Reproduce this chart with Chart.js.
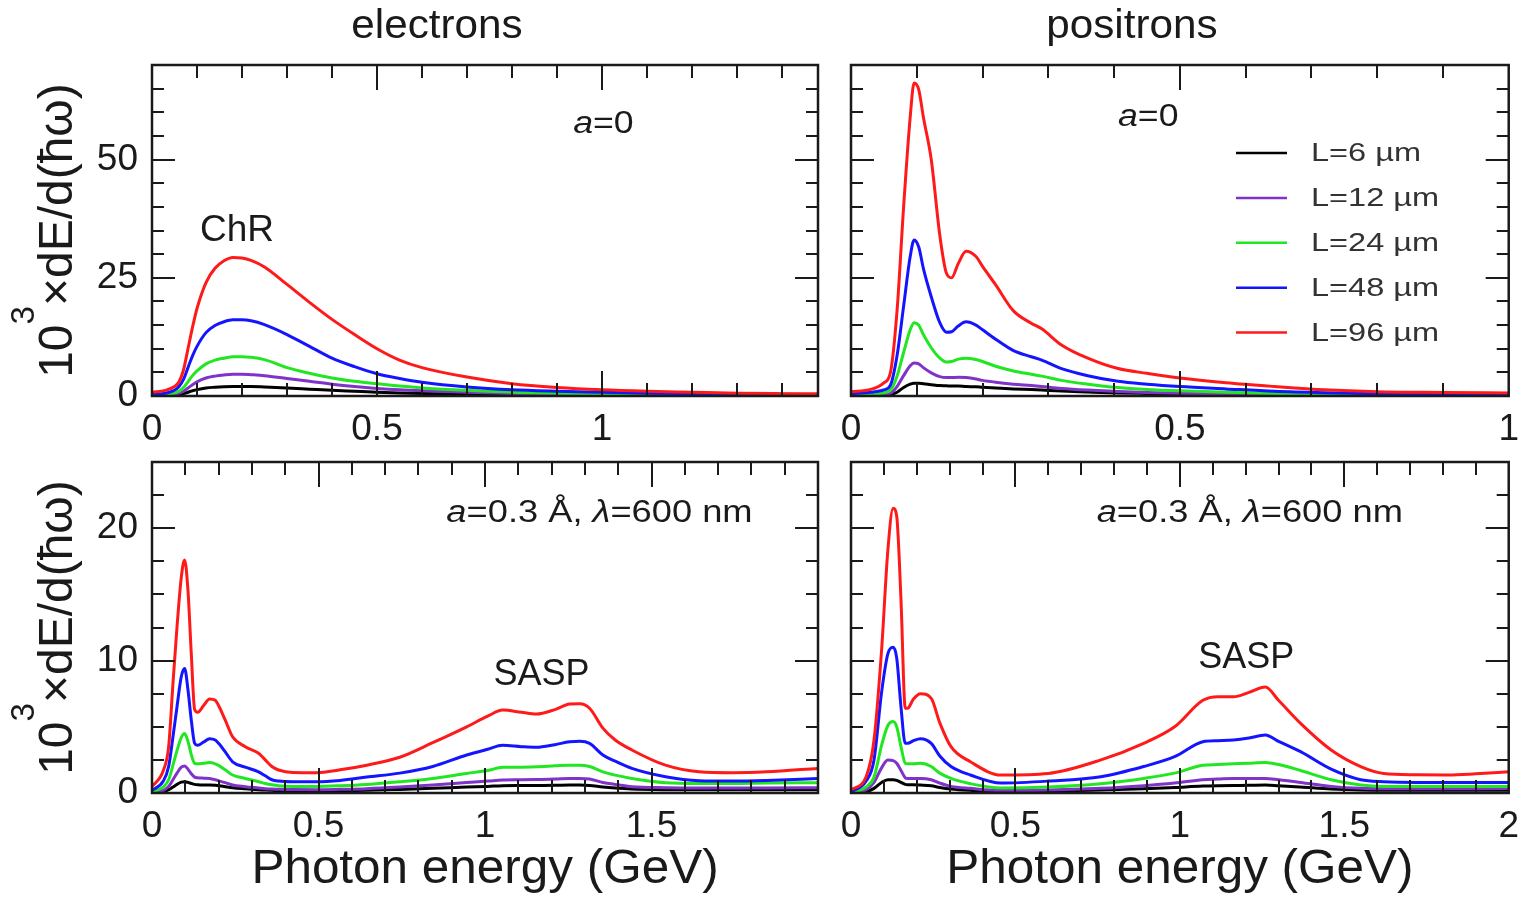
<!DOCTYPE html>
<html>
<head>
<meta charset="utf-8">
<script src="https://cdn.jsdelivr.net/npm/chart.js@4.4.1/dist/chart.umd.min.js"></script>
<style>
	body { margin: 0; background: #ffffff; }
	#figure { position: relative; width: 1531px; height: 897px; }
	#figure canvas { position: absolute; left: 0; top: 0; }
</style>
</head>
<body>
<div id="figure">
	<canvas id="electrons-a0" width="1531" height="897"></canvas>
	<canvas id="positrons-a0" width="1531" height="897"></canvas>
	<canvas id="electrons-a3" width="1531" height="897"></canvas>
	<canvas id="positrons-a3" width="1531" height="897"></canvas>
</div>
<script>
// Crystal lengths, shortest first
const lengthLabels = ["L=6 µm", "L=12 µm", "L=24 µm", "L=48 µm", "L=96 µm"];
const lineColors = ["#000000", "#7f33c8", "#22e622", "#1414ff", "#ff1a1a"];

// electrons, a=0 (photon energy in GeV)
const eA0X = [0, 0.03, 0.05, 0.06, 0.07, 0.08, 0.09, 0.1, 0.12, 0.14, 0.16, 0.18, 0.2, 0.22, 0.25, 0.3, 0.35, 0.4, 0.45, 0.5, 0.55, 0.6, 0.7, 0.8, 0.9, 1.0, 1.1, 1.2, 1.3, 1.4, 1.48];
const eA0L6 = [0.05, 0.1, 0.2, 0.3, 0.5, 0.8, 1.1, 1.35, 1.7, 1.85, 1.95, 2.0, 2.0, 2.0, 1.9, 1.7, 1.45, 1.2, 1.0, 0.8, 0.65, 0.55, 0.4, 0.3, 0.22, 0.18, 0.15, 0.12, 0.1, 0.08, 0.07];
const eA0L12 = [0.1, 0.2, 0.35, 0.6, 1.0, 1.7, 2.4, 3.0, 3.8, 4.2, 4.45, 4.6, 4.6, 4.5, 4.3, 3.7, 3.1, 2.5, 2.0, 1.6, 1.3, 1.1, 0.8, 0.55, 0.4, 0.3, 0.25, 0.2, 0.18, 0.15, 0.12];
const eA0L24 = [0.2, 0.3, 0.6, 1.0, 1.8, 3.0, 4.3, 5.3, 6.8, 7.6, 8.0, 8.3, 8.3, 8.2, 7.7, 6.0, 4.8, 3.8, 3.1, 2.6, 2.1, 1.7, 1.2, 0.8, 0.6, 0.5, 0.4, 0.35, 0.3, 0.25, 0.2];
const eA0L48 = [0.3, 0.6, 1.2, 2.0, 3.5, 6.0, 8.5, 10.5, 13.4, 14.9, 15.7, 16.1, 16.1, 15.9, 15.1, 13.0, 10.5, 8.0, 6.2, 4.7, 3.7, 2.9, 1.9, 1.3, 1.0, 0.8, 0.6, 0.5, 0.4, 0.35, 0.3];
const eA0L96 = [0.8, 1.2, 2.0, 3.0, 5.5, 10, 14.5, 18.5, 24, 27, 28.6, 29.3, 29.2, 28.7, 27.3, 23.6, 19.8, 16.2, 13.0, 10.0, 7.6, 6.0, 4.0, 2.6, 1.8, 1.3, 1.0, 0.8, 0.6, 0.5, 0.45];

// positrons, a=0
const pA0X = [0, 0.03, 0.05, 0.06, 0.07, 0.08, 0.09, 0.096, 0.103, 0.11, 0.122, 0.135, 0.145, 0.153, 0.163, 0.175, 0.19, 0.2, 0.22, 0.247, 0.274, 0.29, 0.32, 0.36, 0.406, 0.45, 0.5, 0.57, 0.644, 0.72, 0.8, 0.9, 1.0];
const pA0L6 = [0.1, 0.12, 0.2, 0.3, 0.8, 1.8, 2.5, 2.7, 2.7, 2.6, 2.4, 2.2, 2.15, 2.1, 2.1, 2.0, 1.95, 1.85, 1.7, 1.5, 1.35, 1.25, 1.05, 0.85, 0.65, 0.55, 0.45, 0.35, 0.25, 0.2, 0.15, 0.12, 0.1];
const pA0L12 = [0.2, 0.25, 0.4, 0.6, 2.0, 4.3, 6.4, 7.0, 6.8, 6.0, 4.9, 4.1, 3.9, 3.9, 3.95, 3.9, 3.6, 3.3, 2.9, 2.5, 2.2, 2.0, 1.6, 1.25, 0.95, 0.75, 0.6, 0.45, 0.35, 0.25, 0.2, 0.15, 0.12];
const pA0L24 = [0.3, 0.4, 0.7, 1.2, 4.2, 9.2, 14.0, 15.5, 15.0, 13.0, 10.2, 8.0, 7.2, 7.3, 7.8, 8.0, 7.7, 7.3, 6.3, 5.3, 4.6, 4.2, 3.3, 2.5, 1.8, 1.4, 1.1, 0.8, 0.55, 0.4, 0.3, 0.25, 0.2];
const pA0L48 = [0.5, 0.8, 1.3, 2.3, 8.5, 19, 29.5, 33, 31.5, 27, 21, 15.5, 13.5, 13.6, 14.8, 15.7, 15.0, 14.0, 12.0, 9.6, 8.3, 7.6, 5.8, 4.3, 3.1, 2.5, 2.0, 1.5, 1.0, 0.7, 0.5, 0.45, 0.4];
const pA0L96 = [0.9, 1.4, 2.8, 5, 18, 40, 59, 66.2, 64.8, 59, 50, 34, 26, 25, 28, 30.6, 29.5, 27.4, 23.5, 18, 15.4, 14.2, 10.8, 8.0, 5.8, 4.8, 3.8, 2.8, 2.0, 1.3, 0.9, 0.75, 0.65];

// electrons, a=0.3 Å, λ=600 nm
const eA3X = [0, 0.034, 0.05, 0.063, 0.075, 0.088, 0.098, 0.108, 0.118, 0.128, 0.137, 0.155, 0.173, 0.19, 0.202, 0.22, 0.242, 0.28, 0.32, 0.34, 0.36, 0.38, 0.423, 0.494, 0.565, 0.645, 0.744, 0.843, 0.945, 1.008, 1.053, 1.109, 1.154, 1.21, 1.254, 1.285, 1.314, 1.354, 1.391, 1.441, 1.542, 1.643, 1.744, 1.845, 2.0];
const eA3L6 = [0.02, 0.1, 0.25, 0.45, 0.65, 0.82, 0.85, 0.8, 0.72, 0.65, 0.62, 0.6, 0.6, 0.58, 0.55, 0.48, 0.4, 0.32, 0.25, 0.22, 0.2, 0.18, 0.16, 0.15, 0.17, 0.2, 0.27, 0.35, 0.45, 0.5, 0.55, 0.56, 0.57, 0.58, 0.6, 0.6, 0.57, 0.45, 0.37, 0.3, 0.25, 0.24, 0.24, 0.24, 0.25];
const eA3L12 = [0.05, 0.2, 0.5, 1.0, 1.5, 1.95, 2.04, 1.8, 1.45, 1.2, 1.15, 1.12, 1.1, 1.0, 0.9, 0.78, 0.6, 0.48, 0.38, 0.33, 0.3, 0.28, 0.26, 0.25, 0.28, 0.33, 0.45, 0.6, 0.8, 0.9, 0.98, 1.0, 1.02, 1.05, 1.1, 1.1, 1.05, 0.8, 0.65, 0.48, 0.4, 0.38, 0.38, 0.38, 0.4];
const eA3L24 = [0.1, 0.45, 1.0, 2.1, 3.2, 4.2, 4.5, 3.9, 2.9, 2.24, 2.2, 2.25, 2.3, 2.2, 2.05, 1.75, 1.36, 1.1, 0.85, 0.72, 0.62, 0.55, 0.5, 0.5, 0.55, 0.65, 0.85, 1.1, 1.48, 1.7, 1.94, 1.95, 1.98, 2.05, 2.1, 2.1, 2.0, 1.6, 1.35, 1.1, 0.78, 0.72, 0.72, 0.75, 0.78];
const eA3L48 = [0.2, 0.9, 2.0, 4.25, 6.5, 8.8, 9.4, 7.8, 5.5, 3.75, 3.6, 3.85, 4.1, 4.0, 3.7, 3.1, 2.36, 1.95, 1.6, 1.3, 1.0, 0.9, 0.85, 0.85, 0.95, 1.2, 1.5, 2.0, 2.87, 3.3, 3.6, 3.5, 3.45, 3.65, 3.87, 3.9, 3.75, 2.87, 2.4, 1.86, 1.23, 0.93, 0.9, 0.95, 1.1];
const eA3L96 = [0.48, 1.7, 3.5, 8.3, 12.5, 16.3, 17.6, 15.3, 10.5, 6.3, 6.1, 6.6, 7.1, 7.0, 6.5, 5.5, 4.25, 3.5, 3.0, 2.5, 2.0, 1.74, 1.55, 1.53, 1.75, 2.1, 2.7, 3.8, 5.0, 5.8, 6.26, 6.1, 5.96, 6.3, 6.72, 6.75, 6.4, 4.9, 4.0, 3.25, 2.1, 1.6, 1.53, 1.6, 1.86];

// positrons, a=0.3 Å, λ=600 nm
const pA3X = [0, 0.046, 0.07, 0.093, 0.112, 0.128, 0.139, 0.152, 0.165, 0.172, 0.19, 0.211, 0.244, 0.27, 0.304, 0.363, 0.456, 0.6, 0.76, 0.89, 0.984, 1.07, 1.116, 1.163, 1.21, 1.26, 1.3, 1.367, 1.46, 1.55, 1.62, 1.72, 1.816, 1.9, 2.0];
const pA3L6 = [0.01, 0.1, 0.35, 0.8, 1.0, 1.0, 0.95, 0.8, 0.65, 0.62, 0.62, 0.6, 0.55, 0.42, 0.3, 0.2, 0.12, 0.14, 0.22, 0.32, 0.42, 0.52, 0.55, 0.57, 0.58, 0.6, 0.55, 0.45, 0.3, 0.22, 0.2, 0.2, 0.2, 0.2, 0.2];
const pA3L12 = [0.02, 0.25, 0.8, 1.9, 2.5, 2.45, 2.25, 1.7, 1.15, 1.1, 1.1, 1.1, 1.0, 0.75, 0.5, 0.35, 0.2, 0.22, 0.35, 0.55, 0.75, 1.0, 1.05, 1.1, 1.1, 1.1, 1.0, 0.8, 0.5, 0.35, 0.32, 0.32, 0.32, 0.33, 0.35];
const pA3L24 = [0.05, 0.45, 1.2, 3.6, 5.1, 5.4, 5.0, 3.5, 2.24, 2.2, 2.2, 2.24, 2.0, 1.5, 1.1, 0.7, 0.38, 0.45, 0.7, 1.1, 1.5, 2.1, 2.15, 2.2, 2.25, 2.3, 2.15, 1.7, 1.0, 0.6, 0.5, 0.5, 0.5, 0.5, 0.5];
const pA3L48 = [0.1, 0.9, 2.5, 7.6, 10.5, 11.0, 10.2, 6.5, 3.75, 3.75, 3.95, 4.1, 3.75, 2.8, 2.0, 1.36, 0.75, 0.9, 1.23, 2.0, 2.74, 3.87, 3.95, 4.0, 4.15, 4.38, 3.9, 3.12, 1.8, 1.0, 0.85, 0.8, 0.8, 0.8, 0.8];
const pA3L96 = [0.23, 1.23, 4.0, 10.8, 18.3, 21.5, 20.9, 14.6, 6.4, 6.4, 7.1, 7.5, 7.15, 5.3, 3.5, 2.36, 1.36, 1.48, 2.5, 3.75, 5.0, 7.0, 7.27, 7.27, 7.6, 8.0, 7.0, 5.26, 3.25, 2.0, 1.48, 1.38, 1.36, 1.45, 1.6];

const FONT = "'Liberation Sans', Arial, Helvetica, sans-serif";
const INK = "#1a1a1a";
const PAGE_W = 1531, PAGE_H = 897;

Chart.defaults.font.family = FONT;
Chart.defaults.color = INK;

// draws a run of text pieces ([text, italic]) on one baseline, optionally widened
function drawParts(ctx, parts, x, y, size, stretch, align) {
	const fontFor = italic => `${italic ? "italic " : ""}${size}px ${FONT}`;
	let width = 0;
	for (const [text, italic] of parts) {
		ctx.font = fontFor(italic);
		width += ctx.measureText(text).width;
	}
	ctx.save();
	ctx.translate(x, y);
	ctx.scale(stretch, 1);
	ctx.fillStyle = INK;
	ctx.textAlign = "left";
	ctx.textBaseline = "alphabetic";
	let cx = align === "center" ? -width / 2 : 0;
	for (const [text, italic] of parts) {
		ctx.font = fontFor(italic);
		ctx.fillText(text, cx, 0);
		cx += ctx.measureText(text).width;
	}
	ctx.restore();
}

// box round the plot area with inward ticks on all four sides
function frameTicks(t) {
	return {
		id: "frameTicks",
		afterDatasetsDraw(chart) {
			const { ctx, chartArea: a, scales: { x, y } } = chart;
			const onStep = (v, step) => Math.abs(v / step - Math.round(v / step)) < 1e-6;
			ctx.save();
			ctx.strokeStyle = INK;
			ctx.lineWidth = 2;
			ctx.beginPath();
			for (let i = 1; i * t.xMinor < x.max - 1e-6; i++) {
				const v = i * t.xMinor;
				const px = Math.round(x.getPixelForValue(v));
				const len = onStep(v, t.xMajor) ? 25 : 13;
				ctx.moveTo(px, a.bottom); ctx.lineTo(px, a.bottom - len);
				ctx.moveTo(px, a.top); ctx.lineTo(px, a.top + len);
			}
			for (let i = 1; i * t.yMinor < y.max - 1e-6; i++) {
				const v = i * t.yMinor;
				const py = Math.round(y.getPixelForValue(v));
				const len = onStep(v, t.yMajor) ? 23 : 12;
				ctx.moveTo(a.left, py); ctx.lineTo(a.left + len, py);
				ctx.moveTo(a.right, py); ctx.lineTo(a.right - len, py);
			}
			ctx.stroke();
			ctx.lineWidth = 2.5;
			ctx.strokeRect(a.left, a.top, a.right - a.left, a.bottom - a.top);
			ctx.restore();
		}
	};
}

// titles, notes and the length key
function panelText(p) {
	return {
		id: "panelText",
		afterDraw(chart) {
			const { ctx, chartArea: a, scales: { x, y } } = chart;
			const midX = (a.left + a.right) / 2;
			const midY = (a.top + a.bottom) / 2;

			if (p.title) drawParts(ctx, [[p.title, false]], midX - 48, a.top - 27, 41, 1.03, "center");

			for (const n of p.notes) {
				drawParts(ctx, n.parts, x.getPixelForValue(n.x), y.getPixelForValue(n.y), n.size, n.stretch, n.align);
			}

			if (p.yTitle) {
				ctx.save();
				ctx.translate(a.left - 80, midY);
				ctx.rotate(-Math.PI / 2);
				ctx.fillStyle = INK;
				ctx.textBaseline = "alphabetic";
				const big = `48px ${FONT}`, small = `33px ${FONT}`;
				ctx.font = big;
				const w1 = ctx.measureText("10").width, w3 = ctx.measureText("×dE/d(ħω)").width;
				ctx.font = small;
				const w2 = ctx.measureText("3").width;
				let cx = -(w1 + w2 + w3) / 2;
				ctx.font = big; ctx.fillText("10", cx, 0); cx += w1;
				ctx.font = small; ctx.fillText("3", cx, -38); cx += w2;
				ctx.font = big; ctx.fillText("×dE/d(ħω)", cx, 0);
				ctx.restore();
			}

			if (p.xTitle) drawParts(ctx, [["Photon energy (GeV)", false]], midX, a.bottom + 90, 48, 1.03, "center");

			if (p.key) {
				ctx.save();
				chart.data.datasets.forEach((ds, i) => {
					const ky = a.top + 88 + i * 44.9;
					ctx.strokeStyle = ds.borderColor;
					ctx.lineWidth = 2.5;
					ctx.beginPath();
					ctx.moveTo(a.left + 385, ky);
					ctx.lineTo(a.left + 436, ky);
					ctx.stroke();
					ctx.save();
					ctx.translate(a.left + 460, ky + 1);
					ctx.scale(1.25, 1);
					ctx.font = `26px ${FONT}`;
					ctx.fillStyle = "#333333";
					ctx.textBaseline = "middle";
					ctx.fillText(ds.label, 0, 0);
					ctx.restore();
				});
				ctx.restore();
			}
		}
	};
}

function makeDatasets(xs, series) {
	return series.map((ys, i) => ({
		label: lengthLabels[i],
		data: xs.map((v, j) => ({ x: v, y: ys[j] })),
		borderColor: lineColors[i],
		borderWidth: 3,
		pointRadius: 0,
		cubicInterpolationMode: "monotone",
		order: series.length - i   // longest crystal ends up on top
	}));
}

function makePanel(id, area, xs, series, p) {
	// the y axis box has to be wide enough for its labels, which are clipped to it
	const yAxisWidth = 90, xAxisHeight = 60;
	new Chart(document.getElementById(id), {
		type: "line",
		data: { datasets: makeDatasets(xs, series) },
		options: {
			responsive: false,
			animation: false,
			events: [],
			layout: {
				padding: {
					left: area.left - yAxisWidth,
					top: area.top,
					right: PAGE_W - area.right,
					bottom: PAGE_H - area.bottom - xAxisHeight
				}
			},
			plugins: { legend: { display: false }, tooltip: { enabled: false } },
			scales: {
				x: {
					type: "linear",
					min: 0,
					max: p.xMax,
					afterFit: s => { s.height = xAxisHeight; },
					grid: { display: false, drawTicks: false },
					border: { display: false },
					ticks: {
						stepSize: 0.5,
						includeBounds: false,
						autoSkip: false,
						maxRotation: 0,
						padding: 12,
						font: { size: 37 },
						callback: v => (v <= p.xLabelMax + 1e-6 ? String(v) : "")
					}
				},
				y: {
					min: 0,
					max: p.yMax,
					afterFit: s => { s.width = yAxisWidth; },
					grid: { display: false, drawTicks: false },
					border: { display: false },
					ticks: {
						display: p.yLabels,
						stepSize: p.ticks.yMajor,
						includeBounds: false,
						padding: 14,
						font: { size: 37 }
					}
				}
			}
		},
		plugins: [frameTicks(p.ticks), panelText(p)]
	});
}

const topTicks = { xMinor: 0.1, xMajor: 0.5, yMinor: 5, yMajor: 25 };
const bottomTicks = { xMinor: 0.1, xMajor: 0.5, yMinor: 2.5, yMajor: 10 };
const a0Note = [["a", true], ["=0", false]];
const a3Note = [["a", true], ["=0.3 Å, ", false], ["λ", true], ["=600 nm", false]];

makePanel("electrons-a0", { left: 152, top: 65, right: 818, bottom: 396 }, eA0X,
	[eA0L6, eA0L12, eA0L24, eA0L48, eA0L96], {
		xMax: 1.48, xLabelMax: 1, yMax: 70, yLabels: true, ticks: topTicks,
		title: "electrons", yTitle: true,
		notes: [
			{ parts: a0Note, x: 0.936, y: 55.6, size: 31, stretch: 1.15, align: "left" },
			{ parts: [["ChR", false]], x: 0.189, y: 32.7, size: 37, stretch: 1, align: "center" }
		]
	});

makePanel("positrons-a0", { left: 851, top: 65, right: 1518, bottom: 396 }, pA0X,
	[pA0L6, pA0L12, pA0L24, pA0L48, pA0L96], {
		xMax: 1, xLabelMax: 1, yMax: 70, yLabels: false, ticks: topTicks,
		title: "positrons", key: true,
		notes: [
			{ parts: a0Note, x: 0.406, y: 57.0, size: 31, stretch: 1.15, align: "left" }
		]
	});

makePanel("electrons-a3", { left: 152, top: 462, right: 818, bottom: 793 }, eA3X,
	[eA3L6, eA3L12, eA3L24, eA3L48, eA3L96], {
		xMax: 2, xLabelMax: 1.5, yMax: 25, yLabels: true, ticks: bottomTicks,
		yTitle: true, xTitle: true,
		notes: [
			{ parts: a3Note, x: 0.884, y: 20.5, size: 31, stretch: 1.17, align: "left" },
			{ parts: [["SASP", false]], x: 1.17, y: 8.15, size: 36, stretch: 1, align: "center" }
		]
	});

makePanel("positrons-a3", { left: 851, top: 462, right: 1518, bottom: 793 }, pA3X,
	[pA3L6, pA3L12, pA3L24, pA3L48, pA3L96], {
		xMax: 2, xLabelMax: 2, yMax: 25, yLabels: false, ticks: bottomTicks,
		xTitle: true,
		notes: [
			{ parts: a3Note, x: 0.747, y: 20.5, size: 31, stretch: 1.17, align: "left" },
			{ parts: [["SASP", false]], x: 1.202, y: 9.43, size: 36, stretch: 1, align: "center" }
		]
	});
</script>
</body>
</html>
